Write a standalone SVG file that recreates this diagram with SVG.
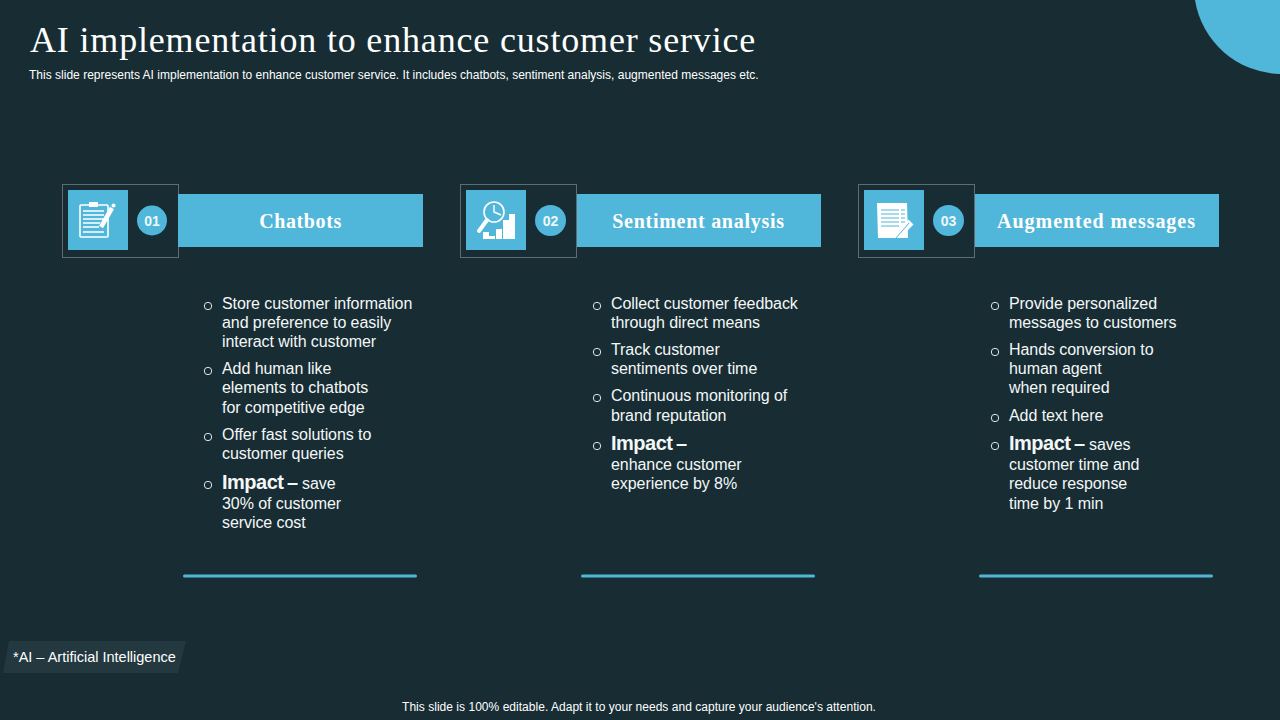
<svg xmlns="http://www.w3.org/2000/svg" width="1280" height="720" viewBox="0 0 1280 720">
<defs>
<style>
.s{font-family:"Liberation Sans",Arial,sans-serif;fill:#fff}
.t{font-size:16px;fill:#f4f7f8;letter-spacing:-.07px}
.b{font-size:20px;font-weight:700;letter-spacing:-.5px}
.d{font-size:20px;font-weight:700}
.h{font-family:"Liberation Serif","Times New Roman",serif;font-size:20px;font-weight:700;fill:#fff;text-anchor:middle}
.n{font-family:"Liberation Sans",Arial,sans-serif;font-size:14px;font-weight:700;fill:#f0f8fb;text-anchor:middle}
.box{fill:none;stroke:#5f6b70;stroke-width:1}
.c{fill:#51b7da}
.bul{fill:none;stroke:#dfe6e8;stroke-width:1}
.ln{stroke:#51b7da;stroke-width:3;stroke-linecap:round}
.w{fill:#fff}
.p{stroke:#fff;stroke-width:1.6;fill:none}
</style>
</defs>
<rect width="1280" height="720" fill="#172d33"/>
<path class="c" d="M1195 0 A 88 88 0 0 0 1280 74 L1280 0 Z"/>
<text x="30" y="52" font-family="Liberation Serif,Times New Roman,serif" font-size="36" fill="#fff" letter-spacing=".83">AI implementation to enhance customer service</text>
<text class="s" x="29" y="79" font-size="12" letter-spacing=".01">This slide represents AI implementation to enhance customer service. It includes chatbots, sentiment analysis, augmented messages etc.</text>

<g id="node-chatbots">
<rect class="box" x="62.500" y="184.500" width="116" height="73"/>
<rect class="c" x="68" y="190" width="60" height="60"/>
<rect class="c" x="178" y="194" width="245" height="53"/>
<circle class="c" cx="152" cy="220.500" r="15"/>
<text class="n" x="152" y="225.500">01</text>
<text class="h" x="300.500" y="228" letter-spacing=".6">Chatbots</text>
<g>
<rect class="p" x="80" y="205" width="28" height="32" rx="1"/>
<rect class="w" x="89" y="202" width="9" height="5"/>
<path class="p" d="M83 211H104M83 215H104M83 219H104M83 223H100M83 227H99M83 232H104" stroke-width="1.300"/>
<path d="M101 227L112 208" stroke="#fff" stroke-width="4.500" fill="none"/>
<circle class="w" cx="113.500" cy="205.500" r="2"/>
</g>
<g class="s t">
<circle class="bul" cx="208" cy="306" r="3.700"/>
<text x="222" y="309">Store customer information</text>
<text x="222" y="328">and preference to easily</text>
<text x="222" y="347">interact with customer</text>
<circle class="bul" cx="208" cy="371" r="3.700"/>
<text x="222" y="374">Add human like</text>
<text x="222" y="393">elements to chatbots</text>
<text x="222" y="413">for competitive edge</text>
<circle class="bul" cx="208" cy="437" r="3.700"/>
<text x="222" y="440">Offer fast solutions to</text>
<text x="222" y="459">customer queries</text>
<circle class="bul" cx="208" cy="485" r="3.700"/>
<text x="222" y="489"><tspan class="b">Impact</tspan><tspan class="d" dx="-2"> –</tspan><tspan dx="4">save</tspan></text>
<text x="222" y="509">30% of customer</text>
<text x="222" y="528">service cost</text>
</g>
<line class="ln" x1="184.500" y1="576" x2="415.500" y2="576"/>
</g>

<g id="node-sentiment">
<rect class="box" x="460.500" y="184.500" width="116" height="73"/>
<rect class="c" x="466" y="190" width="60" height="60"/>
<rect class="c" x="577" y="194" width="244" height="53"/>
<circle class="c" cx="550.500" cy="220.500" r="15.500"/>
<text class="n" x="550.500" y="225.500">02</text>
<text class="h" x="698.500" y="228" letter-spacing=".72">Sentiment analysis</text>
<g>
<circle class="p" cx="494" cy="212" r="10" stroke-width="2.400"/>
<path d="M494 205V212L501 215" stroke="#fff" stroke-width="1.400" fill="none"/>
<path d="M487 220L479 231" stroke="#fff" stroke-width="4" stroke-linecap="round"/>
<rect class="w" x="483" y="232" width="6" height="7"/>
<rect class="w" x="489" y="236" width="6" height="3"/>
<rect class="w" x="496" y="229" width="6" height="10"/>
<rect class="w" x="503" y="220" width="6" height="19"/>
<rect class="w" x="509" y="214" width="6" height="25"/>
</g>
<g class="s t">
<circle class="bul" cx="597" cy="306" r="3.700"/>
<text x="611" y="309">Collect customer feedback</text>
<text x="611" y="328">through direct means</text>
<circle class="bul" cx="597" cy="352" r="3.700"/>
<text x="611" y="355">Track customer</text>
<text x="611" y="374">sentiments over time</text>
<circle class="bul" cx="597" cy="398" r="3.700"/>
<text x="611" y="401">Continuous monitoring of</text>
<text x="611" y="421">brand reputation</text>
<circle class="bul" cx="597" cy="446" r="3.700"/>
<text x="611" y="450"><tspan class="b">Impact</tspan><tspan class="d" dx="-2"> –</tspan></text>
<text x="611" y="470">enhance customer</text>
<text x="611" y="489">experience by 8%</text>
</g>
<line class="ln" x1="582.500" y1="576" x2="813.500" y2="576"/>
</g>

<g id="node-augmented">
<rect class="box" x="858.500" y="184.500" width="116" height="73"/>
<rect class="c" x="864" y="190" width="60" height="60"/>
<rect class="c" x="975" y="194" width="244" height="53"/>
<circle class="c" cx="948.500" cy="220.500" r="15.500"/>
<text class="n" x="948.500" y="225.500">03</text>
<text class="h" x="1096.500" y="228" letter-spacing=".95">Augmented messages</text>
<g>
<path class="w" d="M877 203H907L908 238H878Z"/>
<path d="M881 210H899M881 214H899M881 218H899M881 222H899M881 226H899" stroke="#51b7da" stroke-width="1.200"/>
<path d="M901 210h4M901 214h4M901 218h4M901 222h4" stroke="#51b7da" stroke-width="1.200"/>
<path d="M899 234L911 222" stroke="#fff" stroke-width="7"/>
<path d="M896 238L909 223" stroke="#51b7da" stroke-width="1"/>
</g>
<g class="s t">
<circle class="bul" cx="995" cy="306" r="3.700"/>
<text x="1009" y="309">Provide personalized</text>
<text x="1009" y="328">messages to customers</text>
<circle class="bul" cx="995" cy="352" r="3.700"/>
<text x="1009" y="355">Hands conversion to</text>
<text x="1009" y="374">human agent</text>
<text x="1009" y="393">when required</text>
<circle class="bul" cx="995" cy="418" r="3.700"/>
<text x="1009" y="421">Add text here</text>
<circle class="bul" cx="995" cy="446" r="3.700"/>
<text x="1009" y="450"><tspan class="b">Impact</tspan><tspan class="d" dx="-2"> –</tspan><tspan dx="4">saves</tspan></text>
<text x="1009" y="470">customer time and</text>
<text x="1009" y="489">reduce response</text>
<text x="1009" y="509">time by 1 min</text>
</g>
<line class="ln" x1="980.500" y1="576" x2="1211.500" y2="576"/>
</g>

<g id="note">
<path d="M9 641H186L178 673H3Z" fill="#23383f"/>
<text class="s" x="13" y="662" font-size="14.500" fill="#f4f7f8">*AI – Artificial Intelligence</text>
</g>
<text class="s" x="639" y="711" font-size="12" text-anchor="middle" letter-spacing=".03">This slide is 100% editable. Adapt it to your needs and capture your audience's attention.</text>
</svg>
